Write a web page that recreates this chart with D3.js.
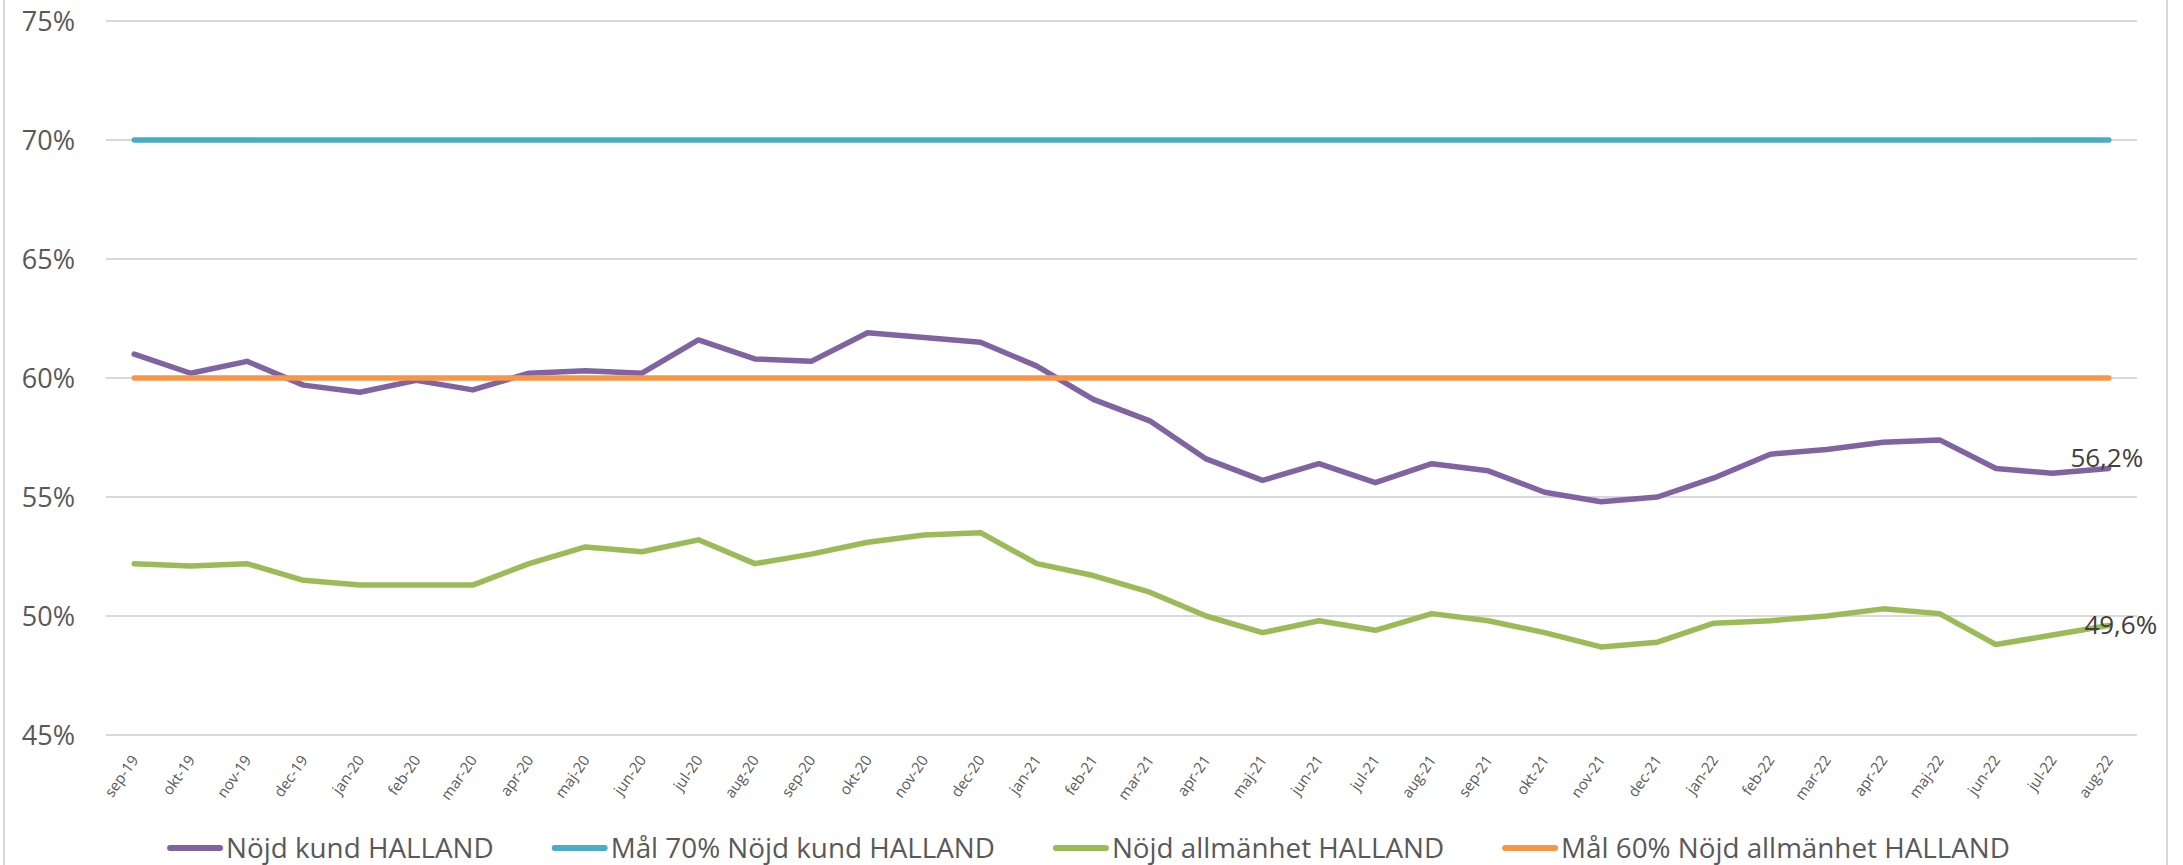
<!DOCTYPE html>
<html>
<head>
<meta charset="utf-8">
<script src="https://cdn.jsdelivr.net/npm/d3@7"></script>
<style>
	body { margin: 0; background: #fff; }
	svg { display: block; font-family: "Open Sans", sans-serif; }
</style>
</head>
<body>
<svg id="chart"></svg>
<script>
const width = 2183;
const height = 865;

const months = ["sep-19","okt-19","nov-19","dec-19","jan-20","feb-20","mar-20","apr-20","maj-20","jun-20","jul-20","aug-20",
	"sep-20","okt-20","nov-20","dec-20","jan-21","feb-21","mar-21","apr-21","maj-21","jun-21","jul-21","aug-21",
	"sep-21","okt-21","nov-21","dec-21","jan-22","feb-22","mar-22","apr-22","maj-22","jun-22","jul-22","aug-22"];

const nojdKund = [61.0, 60.2, 60.7, 59.7, 59.4, 59.9, 59.5, 60.2, 60.3, 60.2, 61.6, 60.8,
	60.7, 61.9, 61.7, 61.5, 60.5, 59.1, 58.2, 56.6, 55.7, 56.4, 55.6, 56.4,
	56.1, 55.2, 54.8, 55.0, 55.8, 56.8, 57.0, 57.3, 57.4, 56.2, 56.0, 56.2];

const nojdAllmanhet = [52.2, 52.1, 52.2, 51.5, 51.3, 51.3, 51.3, 52.2, 52.9, 52.7, 53.2, 52.2,
	52.6, 53.1, 53.4, 53.5, 52.2, 51.7, 51.0, 50.0, 49.3, 49.8, 49.4, 50.1,
	49.8, 49.3, 48.7, 48.9, 49.7, 49.8, 50.0, 50.3, 50.1, 48.8, 49.2, 49.6];

const malKund = 70;
const malAllmanhet = 60;

const yTicks = [45, 50, 55, 60, 65, 70, 75];

const legendNames = ["Nöjd kund HALLAND", "Mål 70% Nöjd kund HALLAND", "Nöjd allmänhet HALLAND", "Mål 60% Nöjd allmänhet HALLAND"];
const colors = ["#8064A2", "#4BACC6", "#9BBB59", "#F79646"];

let svg = d3.select("#chart")
	.attr("width", width)
	.attr("height", height);

// ram runt diagramytan
svg.append("rect")
	.attr("x", 4)
	.attr("y", -10)
	.attr("width", 2163)
	.attr("height", 900)
	.style("fill", "white")
	.style("stroke", "#D9D9D9")
	.style("stroke-width", 2);

const x = d3.scaleBand()
	.domain(months)
	.range([106, 2137]);

const y = d3.scaleLinear()
	.domain([45, 75])
	.range([735, 21]);

const cx = (m) => x(m) + x.bandwidth() / 2;

// stödlinjer
svg.append("g")
	.selectAll("line")
	.data(yTicks)
	.join("line")
	.attr("x1", 106)
	.attr("x2", 2137)
	.attr("y1", d => y(d))
	.attr("y2", d => y(d))
	.style("stroke", "#D9D9D9")
	.style("stroke-width", 2);

svg.append("g")
	.selectAll("text")
	.data(yTicks)
	.join("text")
	.attr("x", 75)
	.attr("y", d => y(d))
	.attr("dy", "0.36em")
	.attr("text-anchor", "end")
	.style("font-size", "27px")
	.style("fill", "#595959")
	.text(d => d + "%");

svg.append("g")
	.selectAll("text")
	.data(months)
	.join("text")
	.attr("transform", d => `translate(${cx(d) + 5},${760}) rotate(-55)`)
	.attr("text-anchor", "end")
	.style("font-size", "15px")
	.style("fill", "#595959")
	.text(d => d);

const line = d3.line()
	.x((d, i) => cx(months[i]))
	.y(d => y(d));

function drawSeries(values, color) {
	svg.append("path")
		.attr("d", line(values))
		.style("fill", "none")
		.style("stroke", color)
		.style("stroke-width", 5.5)
		.style("stroke-linejoin", "round")
		.style("stroke-linecap", "round");
}

function drawTarget(value, color) {
	svg.append("line")
		.attr("x1", cx(months[0]))
		.attr("x2", cx(months[months.length - 1]))
		.attr("y1", y(value))
		.attr("y2", y(value))
		.style("stroke", color)
		.style("stroke-width", 5.5)
		.style("stroke-linecap", "round");
}

drawSeries(nojdKund, colors[0]);
drawTarget(malKund, colors[1]);
drawSeries(nojdAllmanhet, colors[2]);
drawTarget(malAllmanhet, colors[3]);

// etiketter för sista värdet
const fmt = (v) => d3.format(".1f")(v).replace(".", ",") + "%";
const lastMonth = months[months.length - 1];

svg.append("text")
	.attr("x", cx(lastMonth) - 2)
	.attr("y", y(nojdKund[nojdKund.length - 1]) - 1)
	.attr("text-anchor", "middle")
	.style("font-size", "26px")
	.style("fill", "#404040")
	.text(fmt(nojdKund[nojdKund.length - 1]));

svg.append("text")
	.attr("x", cx(lastMonth) + 12)
	.attr("y", y(nojdAllmanhet[nojdAllmanhet.length - 1]) + 8)
	.attr("text-anchor", "middle")
	.style("font-size", "26px")
	.style("fill", "#404040")
	.text(fmt(nojdAllmanhet[nojdAllmanhet.length - 1]));

// förklaring
let legend = svg.append("g");
let pos = 0;
legendNames.forEach((name, i) => {
	let item = legend.append("g").attr("transform", `translate(${pos},0)`);
	item.append("line")
		.attr("x1", 2)
		.attr("x2", 52)
		.attr("y1", 848)
		.attr("y2", 848)
		.style("stroke", colors[i])
		.style("stroke-width", 6)
		.style("stroke-linecap", "round");
	let t = item.append("text")
		.attr("x", 58)
		.attr("y", 858)
		.style("font-size", "27.8px")
		.style("fill", "#595959")
		.text(name);
	pos += 58 + t.node().getComputedTextLength() + 59;
});
const legendWidth = pos - 59;
legend.attr("transform", `translate(${1089 - legendWidth / 2},0)`);
</script>
</body>
</html>
